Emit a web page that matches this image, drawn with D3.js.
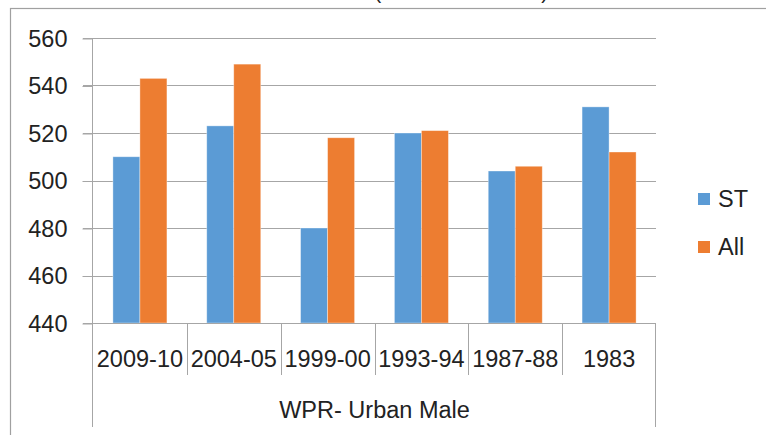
<!DOCTYPE html>
<html>
<head>
<meta charset="utf-8">
<script src="https://cdn.jsdelivr.net/npm/d3@7"></script>
<style>
  body { margin: 0; background: #fff; }
  svg { display: block; font-family: "Liberation Sans", Arial, sans-serif; }
  .grid line { stroke: #a6a6a6; stroke-width: 1; }
  .axis path, .axis line { stroke: #a6a6a6; }
  text { fill: #222; }
</style>
</head>
<body>
<script>
// data
var periods = ["2009-10", "2004-05", "1999-00", "1993-94", "1987-88", "1983"];
var series = ["ST", "All"];
var stValues = [510, 523, 480, 520, 504, 531];
var allValues = [543, 549, 518, 521, 506, 512];
var yTicks = [440, 460, 480, 500, 520, 540, 560];
var groupLabel = "WPR- Urban Male";
var titleText = "WPR (Per 1000 Persons)";

var colors = { ST: "#5b9bd5", All: "#ed7d31" };

var W = 766, H = 435;
var plot = { left: 93, right: 656, top: 38, bottom: 323 };
var fontSize = 23.5;

var svg = d3.select("body").append("svg")
	.attr("width", W)
	.attr("height", H);

// outer chart frame (runs off the picture on the right and bottom)
svg.append("rect")
	.attr("x", 10.5).attr("y", 8.5)
	.attr("width", 900).attr("height", 600)
	.attr("fill", "none")
	.attr("stroke", "#a0a0a0")
	.attr("stroke-width", 1.2);

// title, clipped by the top edge
svg.append("text")
	.attr("x", 548).attr("y", -1)
	.attr("text-anchor", "end")
	.style("font-size", "20px")
	.text(titleText);

var y = d3.scaleLinear()
	.domain([440, 560])
	.range([plot.bottom, plot.top]);

var x0 = d3.scaleBand()
	.domain(periods)
	.range([plot.left, plot.right])
	.paddingInner(0).paddingOuter(0);

var x1 = d3.scaleBand()
	.domain(series)
	.range([0, x0.bandwidth()])
	.paddingInner(0).paddingOuter(0.737);

// gridlines
svg.append("g")
	.attr("class", "grid")
	.selectAll("line")
	.data(yTicks.slice(1))
	.enter().append("line")
		.attr("x1", plot.left - 10).attr("x2", plot.right)
		.attr("y1", function (d) { return Math.round(y(d)) + 0.5; })
		.attr("y2", function (d) { return Math.round(y(d)) + 0.5; });

// y axis
var yAxis = svg.append("g")
	.attr("class", "axis")
	.attr("transform", "translate(" + (plot.left - 0.5) + ",0.5)")
	.call(d3.axisLeft(y).tickValues(yTicks).tickSizeInner(10).tickSizeOuter(0).tickPadding(15));
yAxis.select(".domain").remove();
yAxis.append("line")
	.attr("x1", 0).attr("x2", 0)
	.attr("y1", y(560)).attr("y2", y(440))
	.attr("stroke", "#a6a6a6");
yAxis.selectAll("text")
	.style("font-size", fontSize + "px")
	.attr("fill", "#222");

// bars
var rows = periods.map(function (p, i) {
	return { period: p, values: [
		{ key: "ST", value: stValues[i] },
		{ key: "All", value: allValues[i] }
	] };
});

svg.append("g")
	.selectAll("g")
	.data(rows)
	.enter().append("g")
		.attr("transform", function (d) { return "translate(" + x0(d.period) + ",0)"; })
	.selectAll("rect")
	.data(function (d) { return d.values; })
	.enter().append("rect")
		.attr("x", function (d) { return x1(d.key); })
		.attr("width", x1.bandwidth())
		.attr("y", function (d) { return y(d.value); })
		.attr("height", function (d) { return y(440) - y(d.value); })
		.attr("fill", function (d) { return colors[d.key]; })
		.attr("stroke", "#fff")
		.attr("stroke-opacity", 0.45)
		.attr("stroke-width", 0.8);

// x axis (two-level category axis)
var xg = svg.append("g").attr("class", "axis");
xg.append("line")
	.attr("x1", plot.left - 10).attr("x2", plot.right)
	.attr("y1", plot.bottom + 0.5).attr("y2", plot.bottom + 0.5);

// separators between periods
xg.selectAll(".sep")
	.data(periods.slice(1))
	.enter().append("line")
		.attr("class", "sep")
		.attr("x1", function (d) { return Math.round(x0(d)) + 0.5; })
		.attr("x2", function (d) { return Math.round(x0(d)) + 0.5; })
		.attr("y1", plot.bottom).attr("y2", 375);

// outer edges run down through the group label row
xg.selectAll(".edge")
	.data(x0.range())
	.enter().append("line")
		.attr("class", "edge")
		.attr("x1", function (d) { return Math.round(d) - 0.5; })
		.attr("x2", function (d) { return Math.round(d) - 0.5; })
		.attr("y1", plot.bottom).attr("y2", 427);

xg.selectAll(".cat")
	.data(periods)
	.enter().append("text")
		.attr("class", "cat")
		.attr("x", function (d) { return x0(d) + x0.bandwidth() / 2; })
		.attr("y", 367)
		.attr("text-anchor", "middle")
		.style("font-size", fontSize + "px")
		.text(function (d) { return d; });

xg.append("text")
	.attr("x", (plot.left + plot.right) / 2)
	.attr("y", 418)
	.attr("text-anchor", "middle")
	.style("font-size", fontSize + "px")
	.text(groupLabel);

// legend
var legend = svg.append("g")
	.selectAll("g")
	.data(series)
	.enter().append("g")
		.attr("transform", function (d, i) { return "translate(698," + (193 + i * 48) + ")"; });

legend.append("rect")
	.attr("width", 12).attr("height", 12)
	.attr("fill", function (d) { return colors[d]; });

legend.append("text")
	.attr("x", 20).attr("y", 14)
	.style("font-size", fontSize + "px")
	.text(function (d) { return d; });
</script>
</body>
</html>
